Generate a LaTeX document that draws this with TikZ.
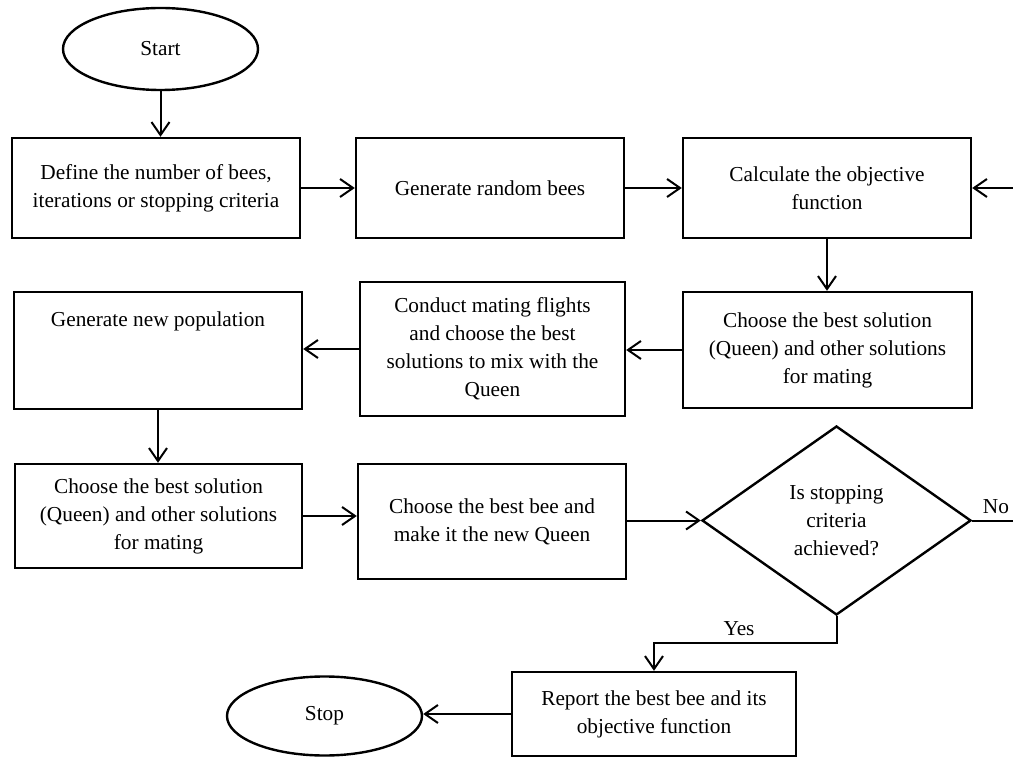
\documentclass[tikz,border=0pt]{standalone}
\usepackage{fontspec}
\setmainfont{Liberation Serif}
\usetikzlibrary{arrows.meta,shapes.geometric,calc}
\begin{document}
\begin{tikzpicture}[x=1pt,y=-1pt,
  txt/.style={font=\fontsize{21.3}{28}\selectfont},
  box/.style={txt,draw,line width=2.4pt,rectangle,align=center,inner sep=0pt},
  term/.style={txt,draw,line width=2.4pt,ellipse,inner sep=0pt},
  dec/.style={txt,draw,line width=2.4pt,diamond,align=center,inner sep=0pt},
  arr/.style={line width=2pt,-{Straight Barb[length=13pt,width=18pt,line width=2pt]}},
  ln/.style={line width=2pt},
  lbl/.style={txt,inner sep=0pt}]
\useasboundingbox (0,0) rectangle (1013,759);
\fill[white] (0,0) rectangle (1013,759);
% terminals
\node[term,minimum width=195pt,minimum height=82pt] (start) at (160.5,49) {Start};
\node[term,minimum width=195pt,minimum height=79pt] (stop) at (324.5,716) {Stop};
% boxes
\node[box,minimum width=288pt,minimum height=100pt] (b1) at (156,188) {Define the number of bees,\\iterations or stopping criteria};
\node[box,minimum width=268pt,minimum height=100pt] (b2) at (490,188) {Generate random bees};
\node[box,minimum width=288pt,minimum height=100pt] (b3) at (827,188) {Calculate the objective\\function};
\node[box,minimum width=289pt,minimum height=116pt] (b4) at (827.5,350) {Choose the best solution\\(Queen) and other solutions\\for mating};
\node[box,minimum width=265pt,minimum height=134pt] (b5) at (492.5,349) {Conduct mating flights\\and choose the best\\solutions to mix with the\\Queen};
\node[box,minimum width=288pt,minimum height=117pt] (b6) at (158,350.5) {};
\node[lbl] (b6t) at (158,321) {Generate new population};
\node[box,minimum width=287pt,minimum height=104pt] (b7) at (158.5,516) {Choose the best solution\\(Queen) and other solutions\\for mating};
\node[box,minimum width=268pt,minimum height=115pt] (b8) at (492,521.5) {Choose the best bee and\\make it the new Queen};
\node[dec,minimum width=269pt,minimum height=189pt] (d) at (836.5,520.5) {Is stopping\\criteria\\achieved?};
\node[box,minimum width=284pt,minimum height=84pt] (b9) at (654,714) {Report the best bee and its\\objective function};
% free ends
\coordinate (inR) at (1013,188);
\coordinate (noEnd) at (1013,520.5);
\coordinate (yc) at (0,643);
% connectors
\draw[arr] (start.south) -- (start.south |- b1.north);
\draw[arr] (b1.east) -- (b2.west);
\draw[arr] (b2.east) -- (b3.west);
\draw[arr] (inR) -- (b3.east);
\draw[arr] (b3.south) -- (b3.south |- b4.north);
\draw[arr] (b4.west) -- (b4.west -| b5.east);
\draw[arr] (b5.west) -- (b5.west -| b6.east);
\draw[arr] (b6.south) -- (b6.south |- b7.north);
\draw[arr] (b7.east) -- (b7.east -| b8.west);
\draw[arr] (d.west -| b8.east) -- (d.west);
\draw[ln] (d.east) -- (noEnd);
\node[lbl,anchor=south] (nolbl) at (996,514) {No};
\draw[arr] (d.south) -- (d.south |- yc) -| (b9.north);
\node[lbl,anchor=south] (yeslbl) at (739,636) {Yes};
\draw[arr] (b9.west) -- (b9.west -| stop.east);
\end{tikzpicture}
\end{document}
